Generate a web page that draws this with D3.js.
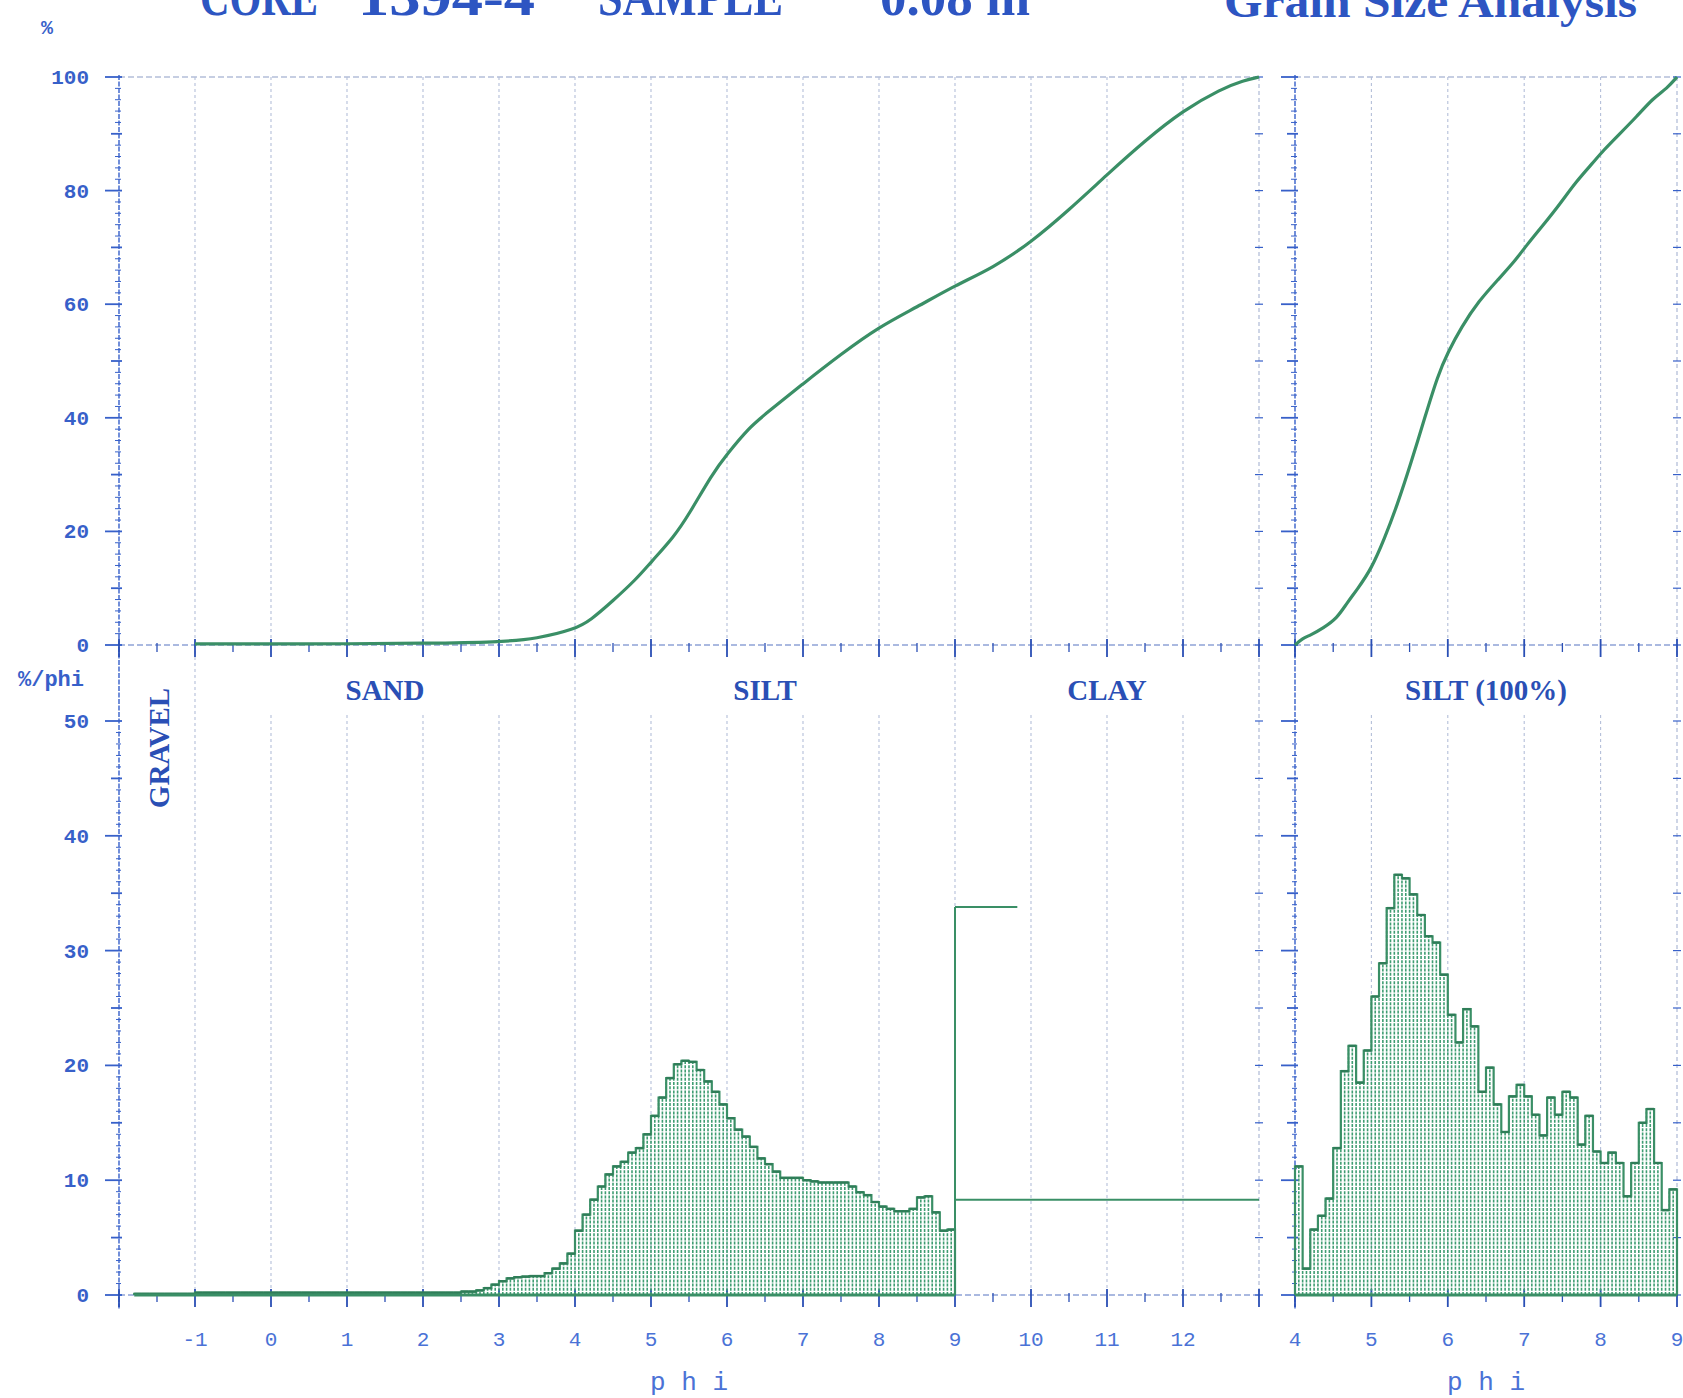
<!DOCTYPE html>
<html><head><meta charset="utf-8">
<script src="https://cdn.jsdelivr.net/npm/d3@7"></script>
<style>body{margin:0;background:#fff} svg{display:block}</style>
</head><body>
<svg id="c" width="1683" height="1398"></svg>
<script>
// ---------------- DATA ----------------
const titleParts = ["CORE", "1394-4", "SAMPLE", "0.08 m", "Grain Size Analysis"];
const classLabels = ["SAND", "SILT", "CLAY"];
const classCenters = [1.5, 6.5, 11];
const gravelLabel = "GRAVEL";
const silt100Label = "SILT (100%)";

const upperTicks = [0, 20, 40, 60, 80, 100];
const lowerTicks = [0, 10, 20, 30, 40, 50];
const phiTicksMain = [-1, 0, 1, 2, 3, 4, 5, 6, 7, 8, 9, 10, 11, 12];
const phiTicksSilt = [4, 5, 6, 7, 8, 9];
const classBounds = [-1, 4, 9, 13];

// cumulative curve, whole sample
const cumPhi = [-1, 0, 1, 2, 3, 3.5, 4, 4.2, 4.5, 4.8, 5, 5.3, 5.5, 5.8, 6, 6.3, 6.5, 7, 7.5, 8, 8.5, 9, 9.5, 10, 10.5, 11, 11.5, 12, 12.5, 12.8, 13];
const cumPct = [0.2, 0.2, 0.2, 0.3, 0.5, 1.1, 2.8, 4.3, 7.8, 11.5, 14.6, 19, 23, 30, 33.6, 38.4, 40.6, 46, 51.2, 56, 59.5, 63.3, 66.4, 70.9, 76.6, 82.8, 88.8, 94.1, 97.9, 99.4, 100];

// cumulative curve, silt only (100%)
const siltCumPhi = [4.0, 4.1, 4.2, 4.37, 4.55, 4.68, 4.81, 5.0, 5.17, 5.34, 5.52, 5.70, 5.87, 6.0, 6.18, 6.4, 6.67, 6.89, 7.02, 7.24, 7.46, 7.68, 7.9, 8.03, 8.25, 8.47, 8.69, 8.87, 9.0];
const siltCumPct = [0, 1.2, 1.7, 3.0, 4.7, 7.4, 9.7, 13.4, 18.7, 24.7, 32.1, 40.1, 47.5, 51.5, 56, 60.5, 64.5, 67.8, 70.2, 73.8, 77.5, 81.6, 84.9, 87, 90, 93, 96.3, 98, 100];

// frequency histogram, whole sample (%/phi), bins of 0.1 phi from -1.8
const histStart = -1.8;
const histStep = 0.1;
const histVals = [
  0.1, 0.1, 0.1, 0.1, 0.1, 0.1, 0.1, 0.1,
  0.2, 0.2, 0.2, 0.2, 0.2, 0.2, 0.2, 0.2, 0.2, 0.2,
  0.2, 0.2, 0.2, 0.2, 0.2, 0.2, 0.2, 0.2, 0.2, 0.2,
  0.2, 0.2, 0.2, 0.2, 0.2, 0.2, 0.2, 0.2, 0.2, 0.2,
  0.2, 0.2, 0.2, 0.2, 0.2, 0.3, 0.3, 0.4, 0.6, 0.9,
  1.2, 1.45, 1.55, 1.6, 1.65, 1.65, 1.9, 2.3, 2.75, 3.6,
  5.6, 7.0, 8.3, 9.45, 10.5, 11.2, 11.6, 12.4, 12.8, 14.0,
  15.6, 17.2, 18.9, 20.1, 20.4, 20.3, 19.6, 18.6, 17.7, 16.6,
  15.4, 14.4, 13.8, 12.9, 11.9, 11.4, 10.75, 10.2, 10.2, 10.2,
  10.0, 9.9, 9.8, 9.8, 9.8, 9.8, 9.45, 8.95, 8.7, 8.1,
  7.7, 7.5, 7.3, 7.3, 7.5, 8.5, 8.6, 7.2, 5.6, 5.7
];
// clay block
const clayRange = [9, 13];
const clayLevel = 8.3;
const clayPeak = 33.8;
const clayPeakEnd = 9.82;

// silt-only histogram (%/phi), bins of 0.1 phi from 4
const siltStart = 4.0;
const siltVals = [
  11.2, 2.3, 5.7, 6.9, 8.4, 12.8, 19.5, 21.7, 18.5, 21.3,
  26.0, 28.9, 33.7, 36.6, 36.3, 34.9, 33.1, 31.25, 30.7, 27.9,
  24.4, 22.0, 24.9, 23.4, 17.7, 19.8, 16.6, 14.2, 17.3, 18.3,
  17.3, 15.7, 13.9, 17.2, 15.7, 17.7, 17.2, 13.1, 15.6, 12.5,
  11.5, 12.4, 11.5, 8.6, 11.5, 15.0, 16.2, 11.5, 7.4, 9.2
];

// ---------------- DRAWING ----------------
const BLUE = '#3760c9', DBLUE = '#2a4fb5', GRID = '#b4bfd9', GREEN = '#3a8f66', HGREEN = '#3f9d72';
const MONO = "'Liberation Mono','DejaVu Sans Mono',monospace";
const SERIF = "'Liberation Serif','DejaVu Serif',serif";

const svg = d3.select('#c');
const xL = d3.scaleLinear().domain([-2, 13]).range([119, 1259]);
const xR = d3.scaleLinear().domain([4, 9]).range([1295, 1677]);
const yU = d3.scaleLinear().domain([0, 100]).range([645, 77]);
const yB = d3.scaleLinear().domain([0, 50]).range([1295, 721]);

const g = svg.append('g');

function line(x1, y1, x2, y2, stroke, w, dash) {
  const l = g.append('line').attr('x1', x1).attr('y1', y1).attr('x2', x2).attr('y2', y2)
    .attr('stroke', stroke).attr('stroke-width', w);
  if (dash) l.attr('stroke-dasharray', dash);
  return l;
}

// ---- grid lines ----
phiTicksMain.forEach(p => {
  const isB = classBounds.includes(p);
  line(xL(p), yU(100), xL(p), yU(0), GRID, 1.1, '3,3');
  line(xL(p), isB ? yU(0) : yB(50) - 6, xL(p), yB(0), GRID, 1.1, '3,3');
});
[5, 6, 7, 8].forEach(p => {
  line(xR(p), yU(100), xR(p), yU(0), GRID, 1.1, '3,3');
  line(xR(p), yB(50) - 6, xR(p), yB(0), GRID, 1.1, '3,3');
});
// top borders at 100 %
line(xL(-2), yU(100), xL(13), yU(100), GRID, 1.3, '6,3');
line(xR(4), yU(100), xR(9), yU(100), GRID, 1.3, '6,3');
// right boundaries
line(xL(13), yU(100), xL(13), yB(0), GRID, 1.3, '4,3');
line(xR(9), yU(100), xR(9), yB(0), GRID, 1.3, '4,3');
// x axes lines
[yU(0), yB(0)].forEach(yy => {
  line(xL(-2), yy, xL(13), yy, '#8ea2d6', 1.4, '6,3');
  line(xR(4), yy, xR(9), yy, '#8ea2d6', 1.4, '6,3');
});

// ---- vertical axes with ticks ----
function vAxis(x0, labels) {
  line(x0, yU(100) - 2, x0, yB(0) + 14, BLUE, 1.4, '5,1.5');
  d3.range(0, 101, 2).forEach(v => {
    const len = v % 20 === 0 ? 14 : (v % 10 === 0 ? 8 : 4);
    line(x0 - len, yU(v), x0 + (v % 10 === 0 ? 3 : 2), yU(v), BLUE, v % 10 === 0 ? 1.8 : 1, null);
  });
  d3.range(0, 51, 1).forEach(v => {
    const len = v % 10 === 0 ? 14 : (v % 5 === 0 ? 8 : 3);
    line(x0 - len, yB(v), x0 + (v % 5 === 0 ? 3 : 2), yB(v), BLUE, v % 5 === 0 ? 1.8 : 1, null);
  });
  if (labels) {
    const a = g.append('g').attr('font-family', MONO).attr('font-weight', 'bold').attr('font-size', 21)
      .attr('fill', BLUE).attr('text-anchor', 'end');
    upperTicks.forEach(v => a.append('text').attr('x', x0 - 30).attr('y', yU(v) + 7).text(v));
    lowerTicks.forEach(v => a.append('text').attr('x', x0 - 30).attr('y', yB(v) + 7).text(v));
  }
}
vAxis(xL(-2), true);
vAxis(xR(4), false);
// small ticks on right boundaries
[xL(13), xR(9)].forEach(x0 => {
  d3.range(0, 101, 10).forEach(v => line(x0 - 4, yU(v), x0 + 4, yU(v), BLUE, 1.2));
  d3.range(0, 51, 5).forEach(v => line(x0 - 4, yB(v), x0 + 4, yB(v), BLUE, 1.2));
});

// ---- x-axis ticks ----
function xTicks(x, lo, hi) {
  [yU(0), yB(0)].forEach(yy => {
    d3.range(lo, hi + 0.01, 0.5).forEach(p => {
      const major = Math.abs(p - Math.round(p)) < 1e-6;
      line(x(p), yy - (major ? 6 : 2), x(p), yy + (major ? 12 : 7), DBLUE, major ? 1.8 : 1.3);
    });
  });
}
xTicks(xL, -2, 13);
xTicks(xR, 4, 9);

// ---- histograms ----
function drawHist(x, y, start, step, vals) {
  const hg = g.append('g');
  const bars = vals.map((v, i) => ({ x0: start + i * step, x1: start + (i + 1) * step, v }));
  // hatch (dotted vertical lines)
  bars.forEach(b => {
    const xa = x(b.x0), w = x(b.x1) - xa;
    [xa, xa + w / 2].forEach(xx => {
      hg.append('line').attr('x1', xx).attr('x2', xx).attr('y1', y(0)).attr('y2', y(b.v))
        .attr('stroke', HGREEN).attr('stroke-width', 1.6).attr('stroke-dasharray', '3,1.2');
    });
  });
  // step outline
  const pts = [[start, 0]].concat(bars.map(b => [b.x0, b.v]));
  const last = bars[bars.length - 1];
  pts.push([last.x1, last.v], [last.x1, 0]);
  hg.append('path')
    .attr('d', d3.line().x(d => x(d[0])).y(d => y(d[1])).curve(d3.curveStepAfter)(pts))
    .attr('fill', 'none').attr('stroke', GREEN).attr('stroke-width', 2.2);
  // bar tops (darker segments)
  bars.forEach(b => {
    hg.append('line').attr('x1', x(b.x0)).attr('x2', x(b.x1)).attr('y1', y(b.v)).attr('y2', y(b.v))
      .attr('stroke', '#2f7d58').attr('stroke-width', 2.4);
  });
  // baseline
  hg.append('line').attr('x1', x(start)).attr('x2', x(last.x1)).attr('y1', y(0)).attr('y2', y(0))
    .attr('stroke', GREEN).attr('stroke-width', 3);
}
drawHist(xL, yB, histStart, histStep, histVals);
drawHist(xR, yB, siltStart, histStep, siltVals);

// clay block
line(xL(clayRange[0]), yB(0), xL(clayRange[0]), yB(clayPeak), GREEN, 2);
line(xL(clayRange[0]), yB(clayPeak), xL(clayPeakEnd), yB(clayPeak), GREEN, 2);
line(xL(clayRange[0]), yB(clayLevel), xL(clayRange[1]), yB(clayLevel), GREEN, 2);

// ---- cumulative curves ----
const lineMain = d3.line().x((d, i) => xL(cumPhi[i])).y(d => yU(d)).curve(d3.curveBasis);
g.append('path').attr('d', lineMain(cumPct)).attr('fill', 'none').attr('stroke', GREEN).attr('stroke-width', 3.2);
const lineSilt = d3.line().x((d, i) => xR(siltCumPhi[i])).y(d => yU(d)).curve(d3.curveBasis);
g.append('path').attr('d', lineSilt(siltCumPct)).attr('fill', 'none').attr('stroke', GREEN).attr('stroke-width', 3.2);

// ---- texts ----
const t = g.append('g').attr('fill', BLUE);
// bottom phi tick labels
const bl = t.append('g').attr('font-family', MONO).attr('font-size', 21).attr('text-anchor', 'middle').attr('fill', '#4a72d6');
phiTicksMain.forEach(p => bl.append('text').attr('x', xL(p)).attr('y', 1346).text(p));
phiTicksSilt.forEach(p => bl.append('text').attr('x', xR(p)).attr('y', 1346).text(p));
bl.append('text').attr('x', xL(5.5)).attr('y', 1390).attr('font-size', 26).text('p h i');
bl.append('text').attr('x', xR(6.5)).attr('y', 1390).attr('font-size', 26).text('p h i');

// unit labels
t.append('text').attr('x', 47).attr('y', 34).attr('font-family', MONO).attr('font-weight', 'bold')
  .attr('font-size', 20).attr('text-anchor', 'middle').text('%');
t.append('text').attr('x', 51).attr('y', 686).attr('font-family', MONO).attr('font-weight', 'bold')
  .attr('font-size', 22).attr('text-anchor', 'middle').text('%/phi');

// class labels
const cl = t.append('g').attr('font-family', SERIF).attr('font-weight', 'bold').attr('font-size', 29)
  .attr('text-anchor', 'middle').attr('fill', DBLUE);
classLabels.forEach((s, i) => cl.append('text').attr('x', xL(classCenters[i])).attr('y', 700).text(s));
cl.append('text').attr('x', xR(6.5)).attr('y', 700).text(silt100Label);
cl.append('text').attr('transform', `translate(${169},${748}) rotate(-90)`).text(gravelLabel);

// title (cut at the top edge, as in the original)
const tt = t.append('g').attr('font-family', SERIF).attr('font-weight', 'bold').attr('fill', '#2d55c2');
const titlePos = [[200, 318], [358, 535], [598, 783], [880, 1030], [1224, 1637]];
titleParts.forEach((s, i) => {
  tt.append('text').attr('x', titlePos[i][0]).attr('y', i === 4 ? 17 : 15).attr('font-size', i === 4 ? 46 : 52)
    .attr('textLength', titlePos[i][1] - titlePos[i][0]).attr('lengthAdjust', 'spacingAndGlyphs').text(s);
});
</script>
</body></html>
